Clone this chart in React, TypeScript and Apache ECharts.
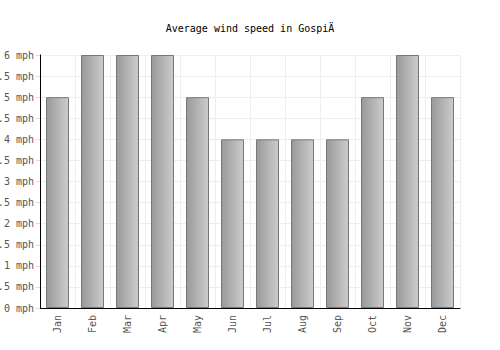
import React, { useEffect, useRef } from "react";
import * as echarts from "echarts";

const months = ["Jan", "Feb", "Mar", "Apr", "May", "Jun", "Jul", "Aug", "Sep", "Oct", "Nov", "Dec"];
const windSpeed = [5, 6, 6, 6, 5, 4, 4, 4, 4, 5, 6, 5];
const titleText = "Average wind speed in GospiÄ";

export default function App() {
  const ref = useRef<HTMLDivElement>(null);
  useEffect(() => {
    document.body.style.margin = "0";
    if (!ref.current) return;
    const chart = echarts.init(ref.current, undefined, { renderer: "svg" });
    const font = "DejaVu Sans Mono";
    chart.setOption({
      animation: false,
      backgroundColor: "#ffffff",
      title: {
        text: titleText,
        left: "center",
        top: 18,
        textStyle: { fontFamily: font, fontSize: 10, fontWeight: "normal", color: "#000" },
      },
      grid: { left: 40, right: 40, top: 55, bottom: 42, containLabel: false, outerBoundsMode: "none" },
      xAxis: {
        type: "category",
        data: months,
        boundaryGap: true,
        axisLine: { lineStyle: { color: "#000", width: 1 } },
        axisTick: { show: false },
        splitLine: { show: true, interval: 0, lineStyle: { color: "#eeeeee", width: 1 } },
        axisLabel: {
          rotate: 90,
          interval: 0,
          margin: 7,
          fontFamily: font,
          fontSize: 10,
          color: "#555",
        },
      },
      yAxis: {
        type: "value",
        min: 0,
        max: 6,
        interval: 0.5,
        axisLine: { show: true, lineStyle: { color: "#000", width: 1 } },
        axisTick: { show: true, length: 4, lineStyle: { color: "#ddd" } },
        splitLine: { show: true, lineStyle: { color: "#eeeeee", width: 1 } },
        axisLabel: {
          margin: 6,
          fontFamily: font,
          fontSize: 10,
          color: "#555",
          formatter: (v: number) => `${v} mph`,
        },
      },
      series: [
        {
          type: "bar",
          data: windSpeed,
          barWidth: 23,
          itemStyle: {
            color: new echarts.graphic.LinearGradient(0, 0, 1, 0, [
              { offset: 0, color: "#999999" },
              { offset: 1, color: "#cccccc" },
            ]),
            borderColor: "#777777",
            borderWidth: 1,
          },
        },
      ],
    });
    return () => chart.dispose();
  }, []);
  return <div ref={ref} style={{ width: 500, height: 350 }} />;
}
